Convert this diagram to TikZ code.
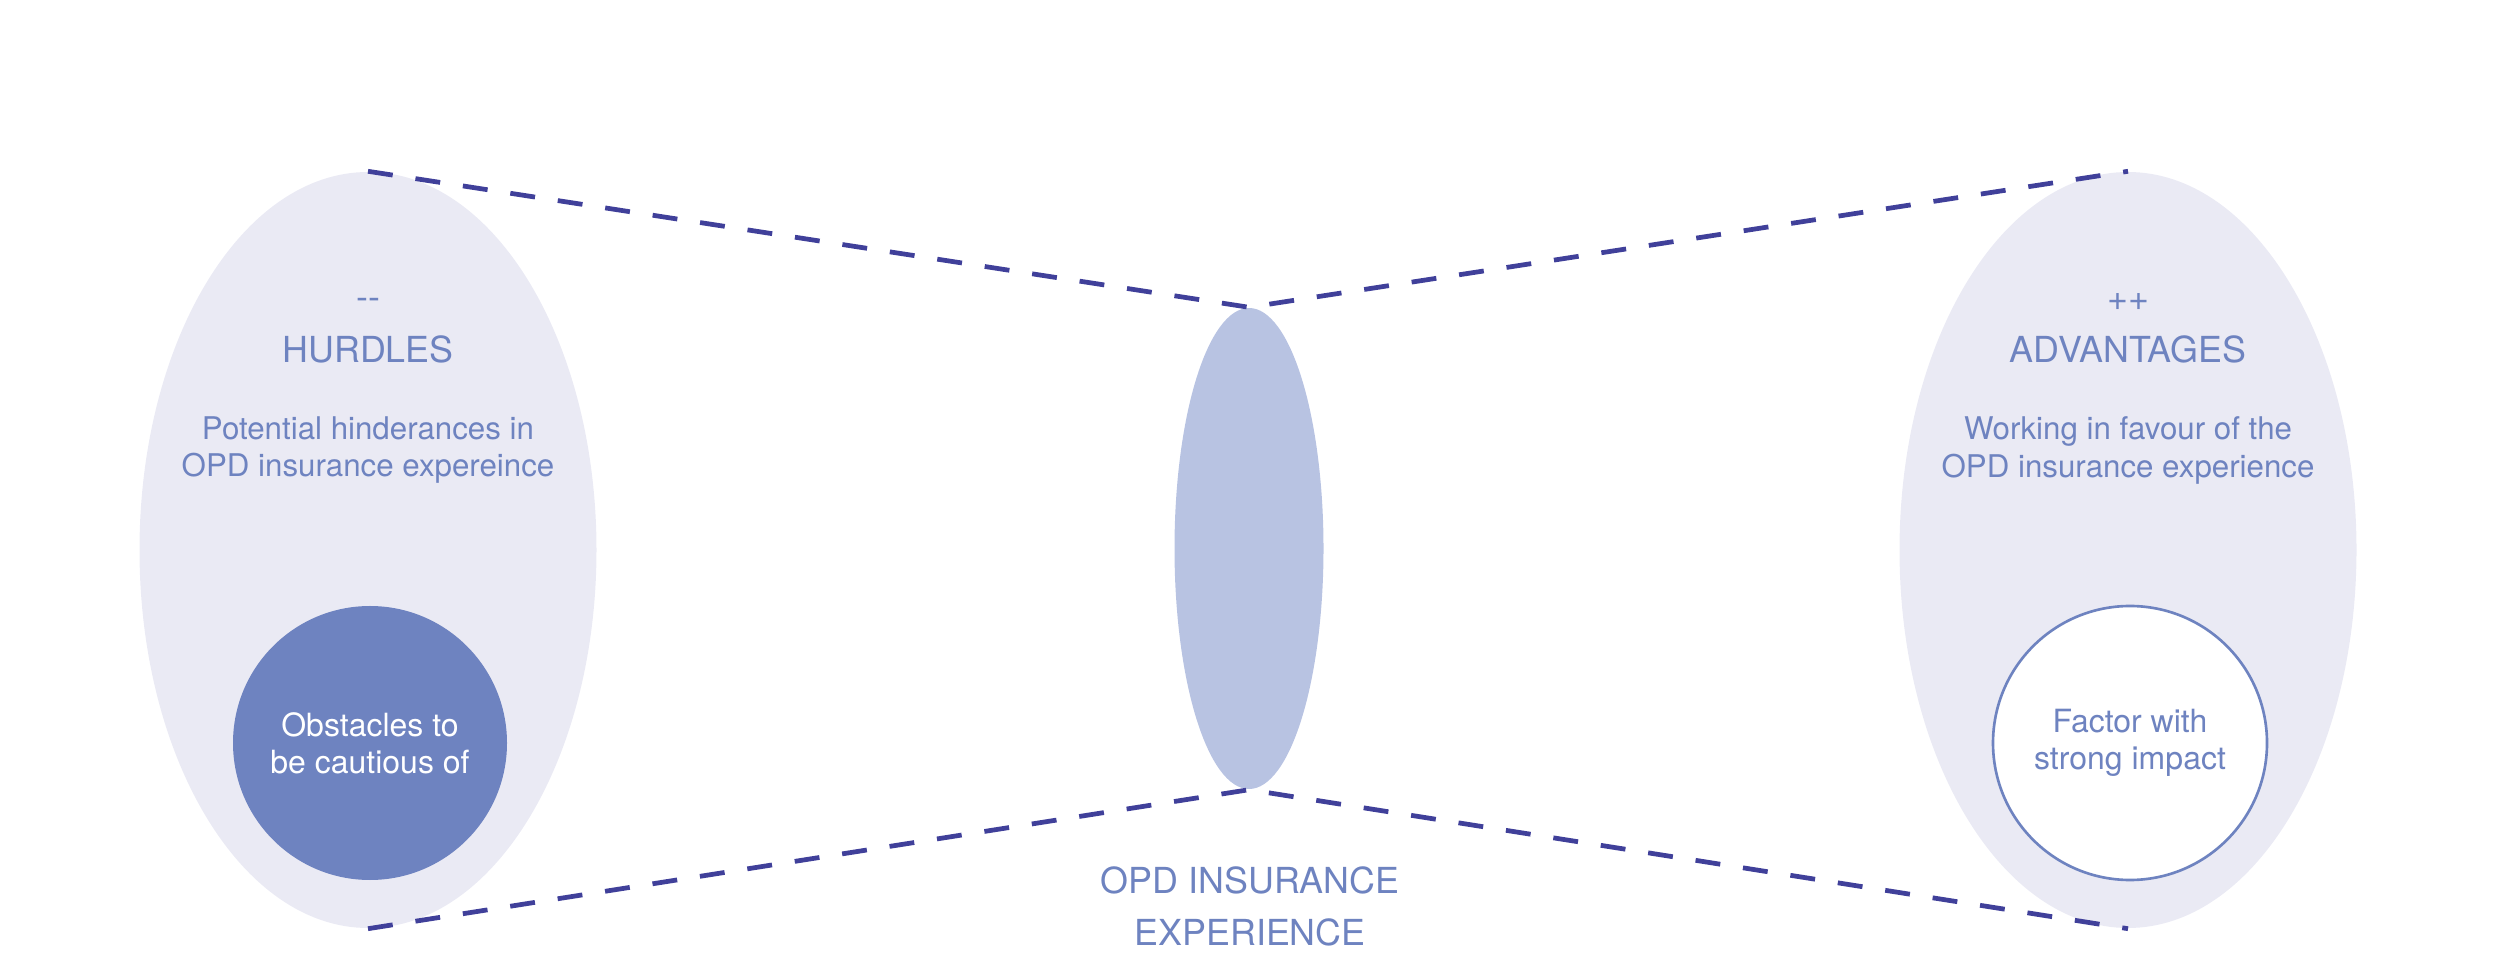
\documentclass[tikz,border=0pt]{standalone}
\usepackage{fontspec}
\setmainfont{TeX Gyre Heros}
\usetikzlibrary{shapes.geometric}
\definecolor{pale}{HTML}{EAEAF4}
\definecolor{lensblue}{HTML}{B8C3E2}
\definecolor{midblue}{HTML}{6E83C0}
\definecolor{dashblue}{HTML}{40409A}

\begin{document}
\begin{tikzpicture}[
  side/.style={ellipse,fill=pale,minimum width=4.57cm,minimum height=7.56cm,inner sep=0},
  link/.style={dashblue,line width=1.35pt,dash pattern=on 0.25cm off 0.23cm},
  big/.style={text=midblue,align=center,font=\fontsize{10.2}{14.8}\selectfont},
  small/.style={text=midblue,align=center,font=\fontsize{8.9}{10.8}\selectfont},
  spot/.style={circle,minimum size=2.74cm,inner sep=0,align=center,font=\fontsize{9.1}{10.5}\selectfont}]
\useasboundingbox (0,0) rectangle (25,9.64);
\node[side] (hrd) at (3.68,4.14) {};
\node[side] (adv) at (21.28,4.14) {};
\node[ellipse,fill=lensblue,minimum width=1.49cm,minimum height=4.81cm,inner sep=0] (lens) at (12.49,4.155) {};
\node[spot,fill=midblue,text=white] (obs) at (3.70,2.21) {Obstacles to\\be cautious of};
\node[spot,draw=midblue,line width=0.75pt,fill=white,text=midblue] (fac) at (21.30,2.21) {Factor with\\strong impact};
\draw[link] (hrd.north) -- (lens.north) -- (adv.north);
\draw[link] (hrd.south) -- (lens.south) -- (adv.south);
\node[big] (minus) at (3.68,6.60) {-{}-};
\node[big] (hrdt) at (3.68,6.15) {HURDLES};
\node[small] (hrdd) at (3.68,5.14) {Potential hinderances in\\OPD insurance expereince};
\node[big] (plus) at (21.28,6.62) {++};
\node[big] (advt) at (21.28,6.15) {ADVANTAGES};
\node[small] (advd) at (21.28,5.14) {Working in favour of the\\OPD insurance experience};
\node[big] (lbl) at (12.50,0.58) {OPD INSURANCE\\EXPERIENCE};
\end{tikzpicture}
\end{document}
